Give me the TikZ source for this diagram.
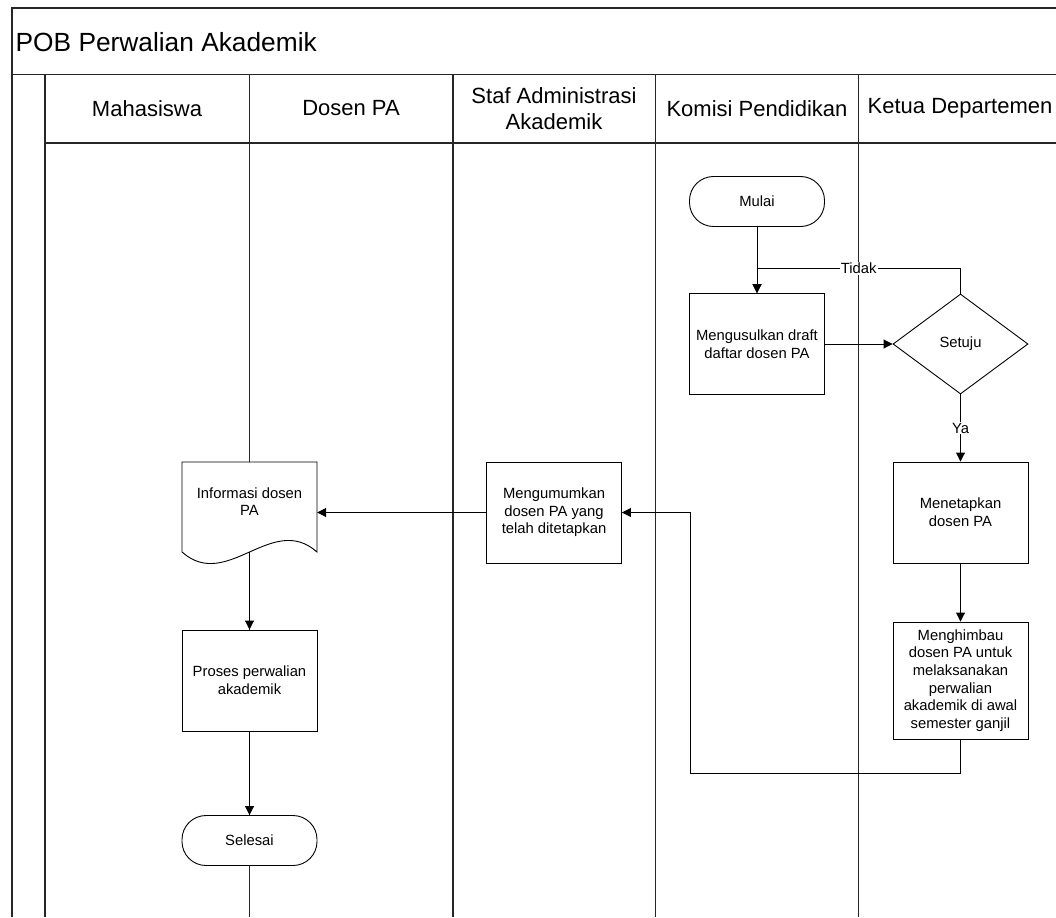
\documentclass[tikz,border=0pt]{standalone}
\usepackage{fontspec}
\setmainfont{Liberation Sans}
\usetikzlibrary{arrows.meta,shapes.geometric}
\newcommand{\shapefnt}{\fontsize{14.8}{17.6}\selectfont}
\newcommand{\headfnt}{\fontsize{22}{26.6}\selectfont}
\newcommand{\titlefnt}{\fontsize{26.3}{30}\selectfont}
\begin{document}
\begin{tikzpicture}[x=1pt,y=1pt,
  frameline/.style={line width=1.3pt,draw=black!85},
  lane/.style={line width=1.3pt,draw=black!85},
  proc/.style={draw,fill=white,line width=0.9pt,rectangle,inner sep=2pt,align=center,font=\shapefnt,minimum width=135pt,minimum height=101pt},
  term/.style={draw,fill=white,line width=0.9pt,rectangle,rounded corners=24pt,inner sep=2pt,align=center,font=\shapefnt,minimum width=135pt,minimum height=50pt},
  decide/.style={draw,fill=white,line width=0.9pt,diamond,inner sep=0pt,align=center,font=\shapefnt,minimum width=135pt,minimum height=100pt},
  docnode/.style={rectangle,inner sep=2pt,align=center,font=\shapefnt,minimum width=135pt,minimum height=79pt},
  conn/.style={line width=0.9pt,-{Triangle[length=9pt,width=9pt]}},
  plain/.style={line width=0.9pt},
  lbl/.style={fill=white,inner sep=1pt,font=\shapefnt},
  head/.style={font=\headfnt,align=center}
]
\useasboundingbox (0,0) rectangle (1056,-917);
% frame
\draw[frameline] (1056,-8) -- (12,-8) -- (12,-917);
\draw[frameline] (12,-74.5) -- (1056,-74.5);
\draw[frameline] (45,-143) -- (1056,-143);
\draw[frameline] (45,-74.5) -- (45,-917);
% lane dividers
\draw[lane] (249.5,-74.5) -- (249.5,-917);
\draw[lane] (453,-74.5) -- (453,-917);
\draw[lane] (655.5,-74.5) -- (655.5,-917);
\draw[lane] (858.5,-74.5) -- (858.5,-917);
% title and headers
\node[font=\titlefnt,anchor=west,inner sep=0pt] (title) at (15.5,-42) {POB Perwalian Akademik};
\node[head] (h1) at (147,-108.5) {Mahasiswa};
\node[head] (h2) at (351,-108.5) {Dosen PA};
\node[head] (h3) at (554,-108.5) {Staf Administrasi\\Akademik};
\node[head] (h4) at (757,-108.5) {Komisi Pendidikan};
\node[head] (h5) at (960,-108.5) {Ketua Departemen};
% shapes
\node[term] (mulai) at (757,-201.5) {Mulai};
\node[proc] (usul) at (757,-344) {Mengusulkan draft\\daftar dosen PA};
\node[decide] (setuju) at (960.5,-344) {Setuju};
\node[proc] (tetap) at (960.5,-512.5) {Menetapkan\\dosen PA};
\node[proc,minimum height=117pt] (himbau) at (960.5,-680.5) {Menghimbau\\dosen PA untuk\\melaksanakan\\perwalian\\akademik di awal\\semester ganjil};
\node[proc] (umum) at (554,-512.5) {Mengumumkan\\dosen PA yang\\telah ditetapkan};
% document shape
\fill[white] (182,-462) -- (182,-552) .. controls (227,-592) and (272,-512) .. (317,-552) -- (317,-462) -- cycle;
\draw[plain] (182,-462) -- (182,-552) .. controls (227,-592) and (272,-512) .. (317,-552) -- (317,-462) -- cycle;
\node[docnode] (info) at (249.5,-501.5) {Informasi dosen\\PA};
\coordinate (infobot) at (249.5,-552);
\node[proc] (proses) at (249.5,-680.5) {Proses perwalian\\akademik};
\node[term] (selesai) at (249.5,-840.5) {Selesai};
% connectors
\draw[conn] (mulai.south) -- (usul.north);
\draw[conn] (usul.east) -- (setuju.west);
\draw[conn] (setuju.north) |- ++(0,25) -| (usul.north) node[lbl,pos=0.25] {Tidak};
\draw[conn] (setuju.south) -- (tetap.north) node[lbl,midway,yshift=0pt] {Ya};
\draw[conn] (tetap.south) -- (himbau.north);
\coordinate (fb1) at (690,-773);
\coordinate (fb2) at (690,-512.5);
\draw[conn] (himbau.south) |- (fb1) -- (fb2) -- (umum.east);
\draw[conn] (umum.west) -- (umum.west -| info.east);
\draw[conn] (infobot) -- (proses.north);
\draw[conn] (proses.south) -- (selesai.north);
\end{tikzpicture}
\end{document}
